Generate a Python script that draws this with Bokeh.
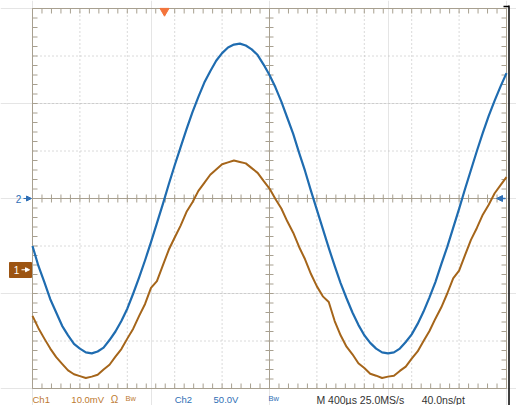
import numpy as np
from bokeh.plotting import figure
from bokeh.models import Label, Arrow, NormalHead, Range1d
from bokeh.embed import file_html
from bokeh.resources import INLINE

# ---- data ----
time_ms = [0.00, 0.05, 0.10, 0.15, 0.20, 0.25, 0.30, 0.35, 0.40, 0.45,
           0.50, 0.55, 0.60, 0.65, 0.70, 0.75, 0.80, 0.85, 0.90, 0.95,
           1.00, 1.05, 1.10, 1.15, 1.20, 1.25, 1.30, 1.35, 1.40, 1.45,
           1.50, 1.55, 1.60, 1.65, 1.70, 1.75, 1.80, 1.85, 1.90, 1.95,
           2.00, 2.05, 2.10, 2.15, 2.20, 2.25, 2.30, 2.35, 2.40, 2.45,
           2.50, 2.55, 2.60, 2.65, 2.70, 2.75, 2.80, 2.85, 2.90, 2.95,
           3.00, 3.05, 3.10, 3.15, 3.20, 3.25, 3.30, 3.35, 3.40, 3.45,
           3.50, 3.55, 3.60, 3.65, 3.70, 3.75, 3.80, 3.85, 3.90, 3.95, 4.00]
ch2_volts = [-50, -71, -88, -106, -120, -134, -144, -153, -158, -162,
             -163, -161, -157, -149, -140, -129, -116, -100, -83, -65,
             -46, -26, -6, 15, 35, 54, 73, 91, 107, 122,
             134, 145, 153, 159, 162, 163, 161, 157, 151, 141,
             130, 117, 102, 85, 68, 48, 29, 8, -12, -32,
             -52, -71, -89, -105, -120, -133, -144, -152, -158, -162,
             -163, -162, -158, -151, -143, -132, -119, -104, -88, -69,
             -51, -31, -11, 10, 30, 50, 69, 87, 103, 118, 132]
ch1_mv = [-9.7, -12.3, -14.5, -16.6, -18.4, -19.8, -21.2, -22.0, -22.4, -22.8,
          -22.5, -22.1, -21.0, -20.0, -18.3, -16.7, -14.5, -12.4, -9.7, -7.2,
          -3.8, -2.4, 0.9, 4.2, 6.8, 9.3, 12.2, 14.2, 16.6, 18.3,
          20.0, 21.1, 22.2, 22.6, 23.0, 22.7, 22.4, 21.4, 20.4, 18.7,
          17.1, 14.9, 12.9, 10.2, 7.8, 4.8, 2.2, -0.9, -3.5, -5.6,
          -6.8, -10.8, -13.8, -16.2, -17.8, -19.7, -20.7, -21.9, -22.3, -22.8,
          -22.5, -22.3, -21.3, -20.4, -18.7, -17.2, -15.0, -12.9, -10.3, -7.9,
          -5.0, -1.8, -0.2, 3.1, 6.3, 8.8, 11.6, 13.7, 16.1, 17.8, 19.5]

ms_per_div = 0.4
ch2_v_per_div = 50.0
ch1_mv_per_div = 10.0
ch1_offset_div = -1.5
trigger_ms = 1.114
readout_text = ["Ch1", "10.0mV", "\u03a9", "Bw", "Ch2", "50.0V", "Bw",
                "M 400\u00b5s 25.0MS/s", "40.0ns/pt"]
readout_x_div = [0.0, 0.82, 1.65, 1.96, 3.0, 3.82, 4.98, 5.99, 8.21]
readout_color = ["#bd7a30", "#bd7a30", "#bd7a30", "#bd7a30",
                 "#2f6fb5", "#2f6fb5", "#2f6fb5", "#333333", "#333333"]
readout_size = ["9.5px", "9.5px", "10px", "7.5px", "9.5px", "9.5px", "7.5px", "10.5px", "10.5px"]

# ---- layout (page pixels) ----
W, H = 516, 405
GL, GT = 32, 8            # graticule left / top edge
PX_DIV_X, PX_DIV_Y = 47.4, 47.5
GC_Y = GT + 4 * PX_DIV_Y  # centre line y
ch1_zero_py = GC_Y - ch1_offset_div * PX_DIV_Y


def dx(px):
    return (px - GL) / PX_DIV_X * ms_per_div


def dy(py):
    return (GC_Y - py) / PX_DIV_Y * ch2_v_per_div


def dy1(py):
    return (ch1_zero_py - py) / PX_DIV_Y * ch1_mv_per_div


mpp = ms_per_div / PX_DIV_X
vpp = ch2_v_per_div / PX_DIV_Y
x_min, x_max = 0.0, 10 * ms_per_div
y_min, y_max = -4 * ch2_v_per_div, 4 * ch2_v_per_div

p = figure(width=W, height=H, x_range=Range1d(dx(0), dx(W)), y_range=Range1d(dy(H), dy(0)),
           toolbar_location=None, output_backend="svg",
           x_axis_location=None, y_axis_location=None,
           min_border_left=0, min_border_right=0, min_border_top=0, min_border_bottom=0)
p.extra_y_ranges = {"ch1": Range1d(dy1(H), dy1(0))}
p.background_fill_color = "white"
p.border_fill_color = "white"
p.outline_line_color = None
frame_col = "#a8a090"

# grid (dotted)
gx = [x for x in np.arange(1, 10) * ms_per_div if abs(x - 5 * ms_per_div) > 1e-9]
gy = [y for y in np.arange(-3, 4) * ch2_v_per_div if abs(y) > 1e-9]
p.segment(x0=gx, y0=[y_min] * len(gx), x1=gx, y1=[y_max] * len(gx),
          line_color="#b4b4b4", line_width=1, line_dash="1 3")
p.segment(x0=[x_min] * len(gy), y0=gy, x1=[x_max] * len(gy), y1=gy,
          line_color="#b4b4b4", line_width=1, line_dash="1 3")

# frame and centre lines
p.segment(x0=[x_min, x_min, x_min, x_max, 5 * ms_per_div, x_min],
          y0=[y_min, y_max, y_min, y_min, y_min, 0],
          x1=[x_max, x_max, x_min, x_max, 5 * ms_per_div, x_max],
          y1=[y_min, y_max, y_max, y_max, y_max, 0],
          line_color=frame_col, line_width=1)

# minor ticks
xt = np.arange(0, 51) * ms_per_div / 5
yt = np.arange(-20, 21) * ch2_v_per_div / 5
tl = 5
ct = 4
n = len(xt)
p.segment(x0=xt, y0=[y_max] * n, x1=xt, y1=[y_max - tl * vpp] * n, line_color=frame_col)
p.segment(x0=xt, y0=[y_min] * n, x1=xt, y1=[y_min + tl * vpp] * n, line_color=frame_col)
p.segment(x0=xt, y0=[-ct * vpp] * n, x1=xt, y1=[ct * vpp] * n, line_color=frame_col)
m = len(yt)
p.segment(x0=[x_min] * m, y0=yt, x1=[x_min + tl * mpp] * m, y1=yt, line_color=frame_col)
p.segment(x0=[x_max] * m, y0=yt, x1=[x_max - tl * mpp] * m, y1=yt, line_color=frame_col)
xc = 5 * ms_per_div
p.segment(x0=[xc - ct * mpp] * m, y0=yt, x1=[xc + ct * mpp] * m, y1=yt, line_color=frame_col)

# traces
p.line(time_ms, ch1_mv, y_range_name="ch1", line_color="#a5651a", line_width=2,
       line_join="round")
p.line(time_ms, ch2_volts, line_color="#1f6cb0", line_width=2.2, line_join="round")

# trigger position marker (top)
p.scatter([trigger_ms], [y_max - 2.5 * vpp], marker="inverted_triangle", size=9,
          fill_color="#f4743b", line_color="#f4743b")

# trigger level arrow (right)
p.add_layout(Arrow(end=NormalHead(size=6, fill_color="#2f6fb5", line_color="#2f6fb5"),
                   x_start=x_max - 1 * mpp, y_start=0, x_end=x_max - 10 * mpp, y_end=0,
                   line_color="#2f6fb5", line_width=1.5))

# channel 2 ground marker
p.add_layout(Label(x=dx(18), y=0, text="2", text_align="center",
                   text_baseline="middle", text_color="#2f6fb5", text_font_size="10px",
                   text_font="Liberation Sans"))
p.add_layout(Arrow(end=NormalHead(size=5, fill_color="#2f6fb5", line_color="#2f6fb5"),
                   x_start=dx(23), y_start=0, x_end=dx(31), y_end=0,
                   line_color="#2f6fb5", line_width=1.2))

# channel 1 ground marker
p.quad(left=[dx(9)], right=[dx(31)], top=[dy1(262)], bottom=[dy1(277)],
       y_range_name="ch1", fill_color="#9c5412", line_color="#9c5412")
p.add_layout(Label(x=dx(16), y=0, y_range_name="ch1", text="1", text_align="center",
                   text_baseline="middle", text_color="white", text_font_size="10px",
                   text_font="Liberation Sans"))
p.add_layout(Arrow(end=NormalHead(size=4, fill_color="white", line_color="white"),
                   x_start=dx(21), y_start=0, x_end=dx(29), y_end=0, y_range_name="ch1",
                   line_color="white", line_width=1.2))

# right black edge
p.segment(x0=[dx(508.5), dx(503)], y0=[dy(5), dy(6)], x1=[dx(508.5), dx(508.5)], y1=[dy(405), dy(6)],
          line_color="black", line_width=1.5)

# readout
for t, xd, c, fs in zip(readout_text, readout_x_div, readout_color, readout_size):
    small = fs == "7.5px"
    p.add_layout(Label(x=xd * ms_per_div, y=dy(399), y_offset=(1.5 if small else 0),
                       text=t, text_align="left", text_baseline="middle",
                       text_color=c, text_font_size=fs, text_font="Liberation Sans"))

open("out.html", "w").write(file_html(p, INLINE))
